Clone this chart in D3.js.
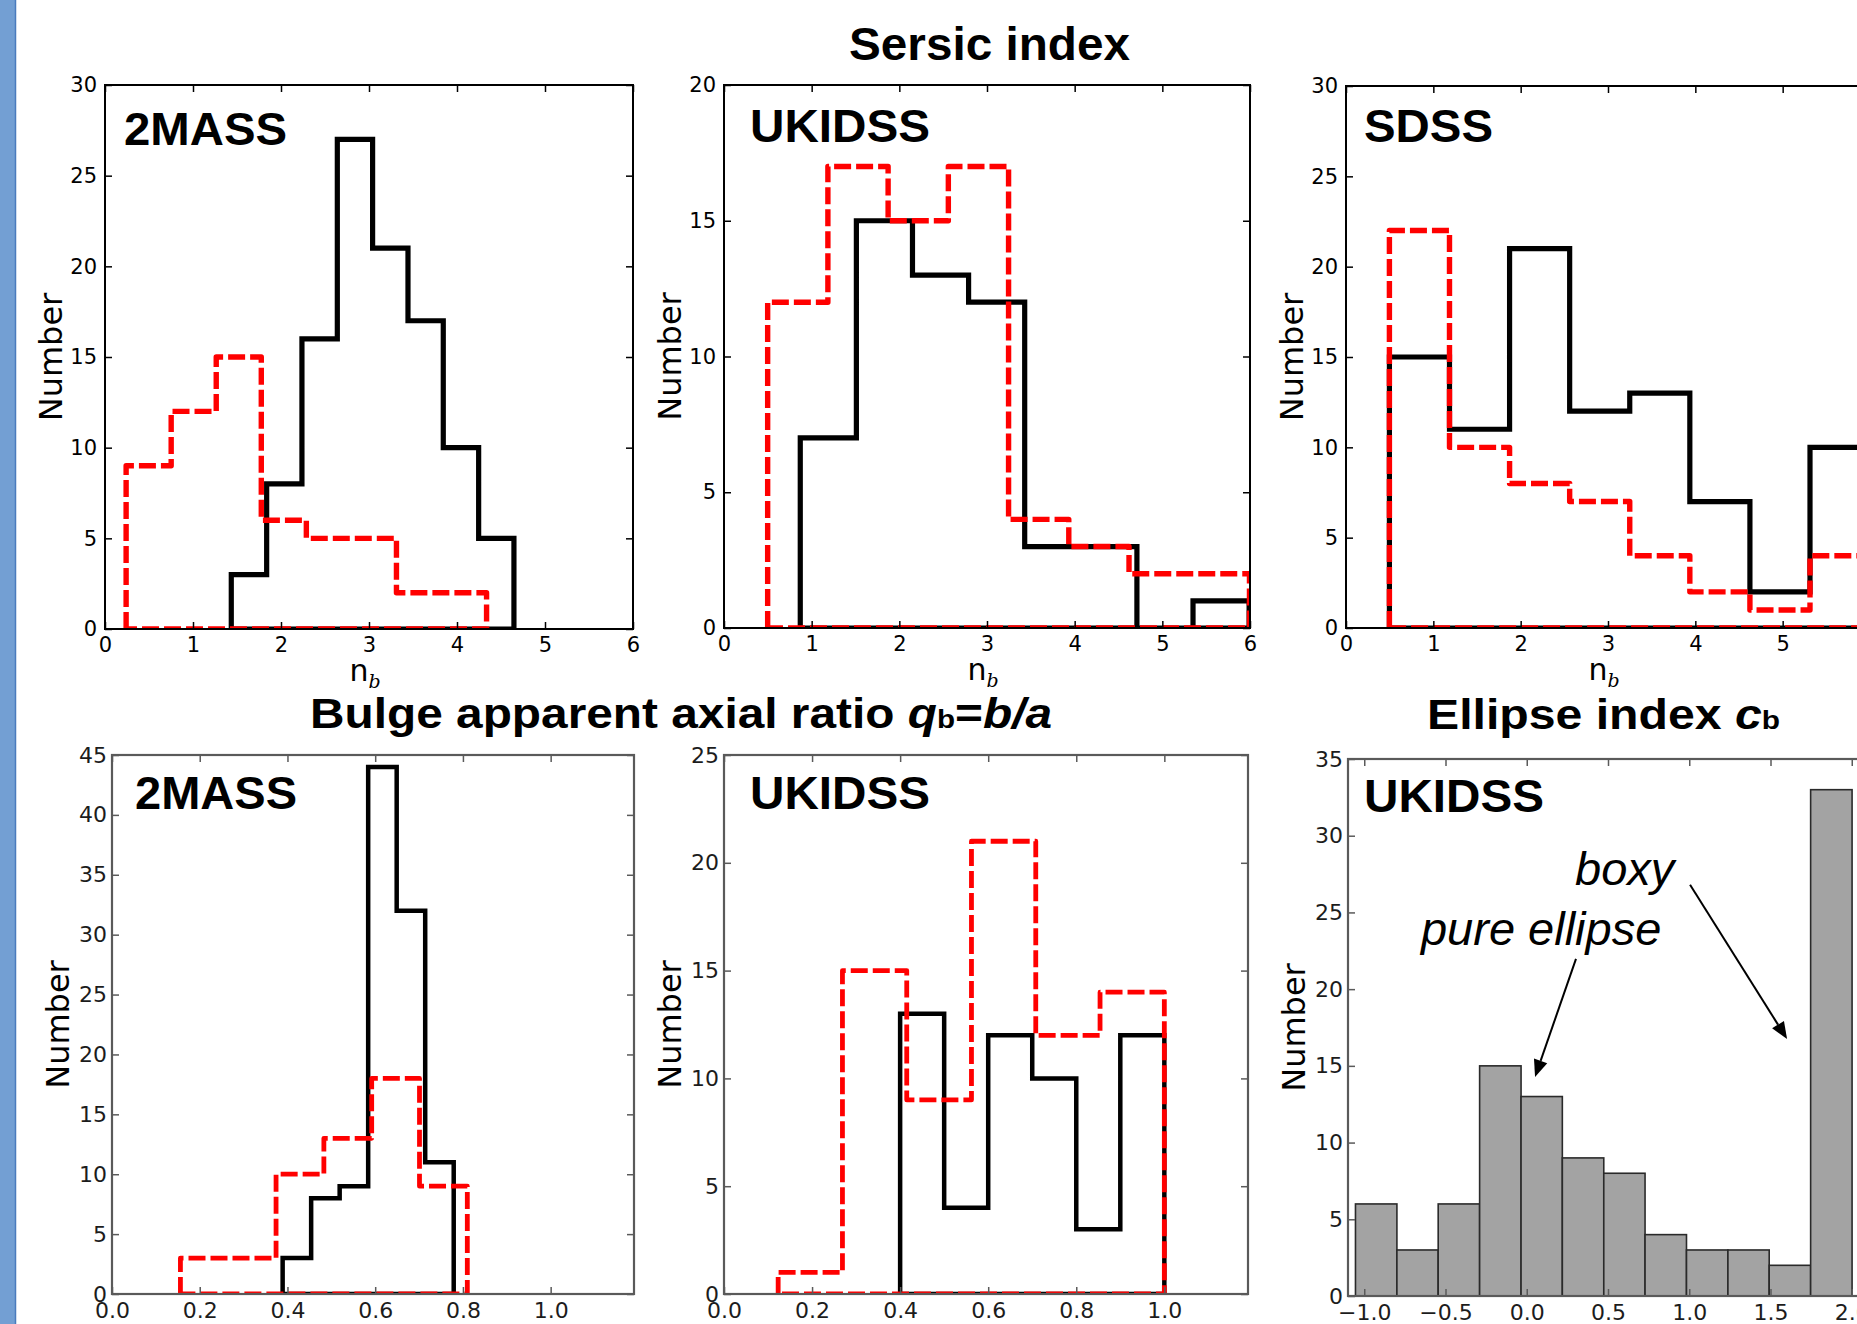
<!DOCTYPE html>
<html>
<head>
<meta charset="utf-8">
<script src="https://cdn.jsdelivr.net/npm/d3@7/dist/d3.min.js"></script>
<style>
body { margin: 0; background: #fff; }
svg { display: block; }
</style>
</head>
<body>
<svg id="chart" width="1857" height="1324"></svg>
<script>
// Sersic index n_b, 2MASS
const sersic2massEdgesBlack = [1.435, 1.837, 2.238, 2.64, 3.041, 3.443, 3.844, 4.246, 4.647];
const sersic2massBlack = [3, 8, 16, 27, 21, 17, 10, 5];
const sersic2massEdgesRed = [0.24, 0.752, 1.264, 1.776, 2.288, 2.8, 3.312, 3.824, 4.336];
const sersic2massRed = [9, 12, 15, 6, 5, 5, 2, 2];

// Sersic index n_b, UKIDSS
const sersicUkidssEdgesBlack = [0.87, 1.51, 2.15, 2.79, 3.43, 4.07, 4.71, 5.35, 5.99];
const sersicUkidssBlack = [7, 15, 13, 12, 3, 3, 0, 1];
const sersicUkidssEdgesRed = [0.498, 1.185, 1.872, 2.559, 3.246, 3.933, 4.62, 5.307, 5.994];
const sersicUkidssRed = [12, 17, 15, 17, 4, 3, 2, 2];

// Sersic index n_b, SDSS
const sersicSdssEdges = [0.497, 1.185, 1.873, 2.561, 3.249, 3.937, 4.625, 5.313, 6.001];
const sersicSdssBlack = [15, 11, 21, 12, 13, 7, 2, 10];
const sersicSdssRed = [22, 10, 8, 7, 4, 2, 1, 4];

// axial ratio q_b, 2MASS
const axial2massEdgesBlack = [0.389, 0.454, 0.519, 0.584, 0.649, 0.714, 0.779];
const axial2massBlack = [3, 8, 9, 44, 32, 11];
const axial2massEdgesRed = [0.156, 0.265, 0.374, 0.483, 0.592, 0.701, 0.81];
const axial2massRed = [3, 3, 10, 13, 18, 9];

// axial ratio q_b, UKIDSS
const axialUkidssEdgesBlack = [0.4, 0.5, 0.6, 0.7, 0.8, 0.9, 1.0];
const axialUkidssBlack = [13, 4, 12, 10, 3, 12];
const axialUkidssEdgesRed = [0.123, 0.269, 0.415, 0.562, 0.708, 0.854, 1.0];
const axialUkidssRed = [1, 15, 9, 21, 12, 14];

// ellipse index c_b, UKIDSS
const ellipseEdges = [-1.054, -0.799, -0.545, -0.29, -0.035, 0.219, 0.474, 0.728, 0.983, 1.238, 1.492, 1.747, 2.002];
const ellipseCounts = [6, 3, 6, 15, 13, 9, 8, 4, 3, 3, 2, 33];

// tick labels
const ticksSersicX = [0, 1, 2, 3, 4, 5, 6];
const ticks30 = [0, 5, 10, 15, 20, 25, 30];
const ticks20 = [0, 5, 10, 15, 20];
const ticks45 = [0, 5, 10, 15, 20, 25, 30, 35, 40, 45];
const ticks25 = [0, 5, 10, 15, 20, 25];
const ticks35 = [0, 5, 10, 15, 20, 25, 30, 35];
const ticksAxialX = [0.0, 0.2, 0.4, 0.6, 0.8, 1.0];
const ticksEllipseX = [-1.0, -0.5, 0.0, 0.5, 1.0, 1.5, 2.0];

// annotations in data coordinates of the c_b panel
const noteTexts = ["boxy", "pure ellipse"];
const noteAt = [[0.297, 26.8], [-0.651, 22.9]];
const arrowFrom = [[1.005, 26.8], [0.303, 21.97]];
const arrowTo = [[1.602, 16.75], [0.051, 14.28]];

const svg = d3.select("#chart");

svg.append("rect").attr("x", 0).attr("y", 0).attr("width", 15).attr("height", 1324).attr("fill", "#739fd3");
svg.append("line").attr("x1", 15.5).attr("x2", 15.5).attr("y1", 0).attr("y2", 1324)
    .attr("stroke", "#4a7bbd").attr("stroke-width", 1.5);

const panels = [
    {left: 105, right: 633, top: 85, bottom: 629, xDomain: [0, 6], yDomain: [0, 30],
     xTicks: ticksSersicX, yTicks: ticks30, fmt: d3.format("d"), row: 0, label: "2MASS", labelDx: 19, labelY: 145, labelW: 163,
     hists: [[sersic2massEdgesBlack, sersic2massBlack, "black"], [sersic2massEdgesRed, sersic2massRed, "red"]]},
    {left: 724, right: 1250, top: 85, bottom: 628, xDomain: [0, 6], yDomain: [0, 20],
     xTicks: ticksSersicX, yTicks: ticks20, fmt: d3.format("d"), row: 0, label: "UKIDSS", labelDx: 26, labelY: 142, labelW: 180,
     hists: [[sersicUkidssEdgesBlack, sersicUkidssBlack, "black"], [sersicUkidssEdgesRed, sersicUkidssRed, "red"]]},
    {left: 1346, right: 1870, top: 86, bottom: 628, xDomain: [0, 6], yDomain: [0, 30],
     xTicks: ticksSersicX, yTicks: ticks30, fmt: d3.format("d"), row: 0, label: "SDSS", labelDx: 18, labelY: 142, labelW: 129,
     hists: [[sersicSdssEdges, sersicSdssBlack, "black"], [sersicSdssEdges, sersicSdssRed, "red"]]},
    {left: 112, right: 634, top: 755, bottom: 1294, xDomain: [0, 1.19], yDomain: [0, 45],
     xTicks: ticksAxialX, yTicks: ticks45, fmt: d3.format(".1f"), row: 1, label: "2MASS", labelDx: 23, labelY: 809, labelW: 162,
     hists: [[axial2massEdgesBlack, axial2massBlack, "black"], [axial2massEdgesRed, axial2massRed, "red"]]},
    {left: 724, right: 1248, top: 755, bottom: 1294, xDomain: [0, 1.19], yDomain: [0, 25],
     xTicks: ticksAxialX, yTicks: ticks25, fmt: d3.format(".1f"), row: 1, label: "UKIDSS", labelDx: 26, labelY: 809, labelW: 180,
     hists: [[axialUkidssEdgesBlack, axialUkidssBlack, "black"], [axialUkidssEdgesRed, axialUkidssRed, "red"]]},
    {left: 1348, right: 1868, top: 759, bottom: 1296, xDomain: [-1.1, 2.1], yDomain: [0, 35],
     xTicks: ticksEllipseX, yTicks: ticks35, fmt: d => d3.format(".1f")(d).replace("-", "\u2212"), row: 1, label: "UKIDSS", labelDx: 16, labelY: 812, labelW: 180,
     bars: [ellipseEdges, ellipseCounts]}
];

function stepPath(edges, values, x, y) {
    let pts = [[edges[0], 0]];
    values.forEach((v, i) => {
        pts.push([edges[i], v]);
        pts.push([edges[i + 1], v]);
    });
    pts.push([edges[edges.length - 1], 0]);
    return d3.line().x(d => x(d[0])).y(d => y(d[1]))(pts) + "Z";
}

function styleAxis(a, col, withText, rowIdx) {
    a.select(".domain").remove();
    a.selectAll("line").attr("stroke", col).attr("stroke-width", 1.5);
    a.selectAll("text")
        .attr("font-family", "DejaVu Sans")
        .attr("font-size", rowIdx === 0 ? 21 : 22)
        .attr("fill", rowIdx === 0 ? "#000" : "#1c1c1c");
    if (!withText) a.selectAll("text").remove();
}

function drawPanel(p, idx) {
    const x = d3.scaleLinear().domain(p.xDomain).range([p.left, p.right]);
    const y = d3.scaleLinear().domain(p.yDomain).range([p.bottom, p.top]);
    const spineCol = p.row === 0 ? "#000" : "#5a5a5a";

    const clipId = "clip" + idx;
    svg.append("clipPath").attr("id", clipId)
        .append("rect")
        .attr("x", p.left).attr("y", p.top)
        .attr("width", p.right - p.left).attr("height", p.bottom - p.top);

    const g = svg.append("g");
    const plot = g.append("g").attr("clip-path", `url(#${clipId})`);

    if (p.bars) {
        const [edges, counts] = p.bars;
        plot.selectAll("rect.bar")
            .data(counts)
            .enter()
            .append("rect")
            .attr("class", "bar")
            .attr("x", (d, i) => x(edges[i]))
            .attr("width", (d, i) => x(edges[i + 1]) - x(edges[i]))
            .attr("y", d => y(d))
            .attr("height", d => y(0) - y(d))
            .attr("fill", "#a3a3a3")
            .attr("stroke", "#2a2a2a")
            .attr("stroke-width", 1.6);
    }

    if (p.hists) {
        p.hists.forEach(([edges, vals, col]) => {
            const path = plot.append("path")
                .attr("d", stepPath(edges, vals, x, y))
                .attr("fill", "none")
                .attr("stroke", col === "red" ? "#ff0000" : "#000");
            if (col === "red") {
                path.attr("stroke-width", p.row === 0 ? 5.4 : 4.8)
                    .attr("stroke-dasharray", "17,5")
                    .attr("stroke-linejoin", "round");
            } else {
                path.attr("stroke-width", p.row === 0 ? 5.2 : 4.5)
                    .attr("stroke-linejoin", "miter");
            }
        });
    }

    // frame
    g.append("rect")
        .attr("x", p.left).attr("y", p.top)
        .attr("width", p.right - p.left).attr("height", p.bottom - p.top)
        .attr("fill", "none")
        .attr("stroke", spineCol)
        .attr("stroke-width", p.row === 0 ? 2 : 2.2);

    const pad = p.row === 0 ? 8 : 5;

    g.append("g").attr("transform", `translate(0,${p.bottom})`)
        .call(d3.axisBottom(x).tickValues(p.xTicks).tickSize(-7).tickPadding(8).tickFormat(p.fmt))
        .call(a => styleAxis(a, spineCol, true, p.row));
    g.append("g").attr("transform", `translate(0,${p.top})`)
        .call(d3.axisTop(x).tickValues(p.xTicks).tickSize(-7))
        .call(a => styleAxis(a, spineCol, false, p.row));
    g.append("g").attr("transform", `translate(${p.left},0)`)
        .call(d3.axisLeft(y).tickValues(p.yTicks).tickSize(-7).tickPadding(pad).tickFormat(d3.format("d")))
        .call(a => styleAxis(a, spineCol, true, p.row));
    g.append("g").attr("transform", `translate(${p.right},0)`)
        .call(d3.axisRight(y).tickValues(p.yTicks).tickSize(-7))
        .call(a => styleAxis(a, spineCol, false, p.row));

    // y label
    const cy = (p.top + p.bottom) / 2;
    g.append("text")
        .attr("transform", `translate(${p.left - 43},${cy}) rotate(-90)`)
        .attr("text-anchor", "middle")
        .attr("font-family", "DejaVu Sans")
        .attr("font-size", 32)
        .attr("fill", "#000")
        .text("Number");

    // x label for the Sersic row
    if (p.row === 0) {
        const t = g.append("text")
            .attr("x", (p.left + p.right) / 2 - 4)
            .attr("y", p.bottom + 52)
            .attr("text-anchor", "middle")
            .attr("font-family", "DejaVu Sans")
            .attr("font-size", 30)
            .attr("fill", "#000");
        t.append("tspan").text("n");
        t.append("tspan")
            .attr("font-family", "DejaVu Serif")
            .attr("font-style", "italic")
            .attr("font-size", 19)
            .attr("dy", 7)
            .text("b");
    }

    // survey label
    g.append("text")
        .attr("x", p.left + p.labelDx)
        .attr("y", p.labelY)
        .attr("font-family", "Liberation Sans")
        .attr("font-weight", "bold")
        .attr("font-size", 47)
        .attr("textLength", p.labelW)
        .attr("lengthAdjust", "spacingAndGlyphs")
        .attr("fill", "#000")
        .text(p.label);

    return [x, y];
}

const scales = panels.map((p, i) => drawPanel(p, i));

// annotations on the c_b panel
const [ex, ey] = scales[5];
noteTexts.forEach((t, i) => {
    svg.append("text")
        .attr("x", ex(noteAt[i][0]))
        .attr("y", ey(noteAt[i][1]))
        .attr("font-family", "Liberation Sans")
        .attr("font-style", "italic")
        .attr("font-size", 47)
        .attr("fill", "#000")
        .text(t);

    const x1 = ex(arrowFrom[i][0]), y1 = ey(arrowFrom[i][1]);
    const x2 = ex(arrowTo[i][0]), y2 = ey(arrowTo[i][1]);
    const ang = Math.atan2(y2 - y1, x2 - x1);
    const headL = 17, headW = 7;
    const bx = x2 - headL * Math.cos(ang), by = y2 - headL * Math.sin(ang);
    svg.append("line")
        .attr("x1", x1).attr("y1", y1).attr("x2", bx).attr("y2", by)
        .attr("stroke", "#000").attr("stroke-width", 2);
    svg.append("path")
        .attr("d", d3.line()([
            [x2, y2],
            [bx + headW * Math.sin(ang), by - headW * Math.cos(ang)],
            [bx - headW * Math.sin(ang), by + headW * Math.cos(ang)]
        ]) + "Z")
        .attr("fill", "#000");
});

// titles
function title(xLeft, base, size, width, parts) {
    const t = svg.append("text")
        .attr("x", xLeft)
        .attr("y", base)
        .attr("font-family", "Liberation Sans")
        .attr("font-weight", "bold")
        .attr("font-size", size)
        .attr("textLength", width)
        .attr("lengthAdjust", "spacingAndGlyphs")
        .attr("fill", "#000");
    parts.forEach(([txt, italic, small]) => {
        const s = t.append("tspan").text(txt);
        if (italic) s.attr("font-style", "italic");
        if (small) s.attr("font-size", size * 0.62);
    });
}

title(849, 60, 47, 281, [["Sersic index", false, false]]);
title(310, 728, 42, 742, [
    ["Bulge apparent axial ratio ", false, false],
    ["q", true, false],
    ["b", false, true],
    ["=", false, false],
    ["b/a", true, false]
]);
title(1427, 729, 42, 353, [
    ["Ellipse index ", false, false],
    ["c", true, false],
    ["b", false, true]
]);
</script>
</body>
</html>
